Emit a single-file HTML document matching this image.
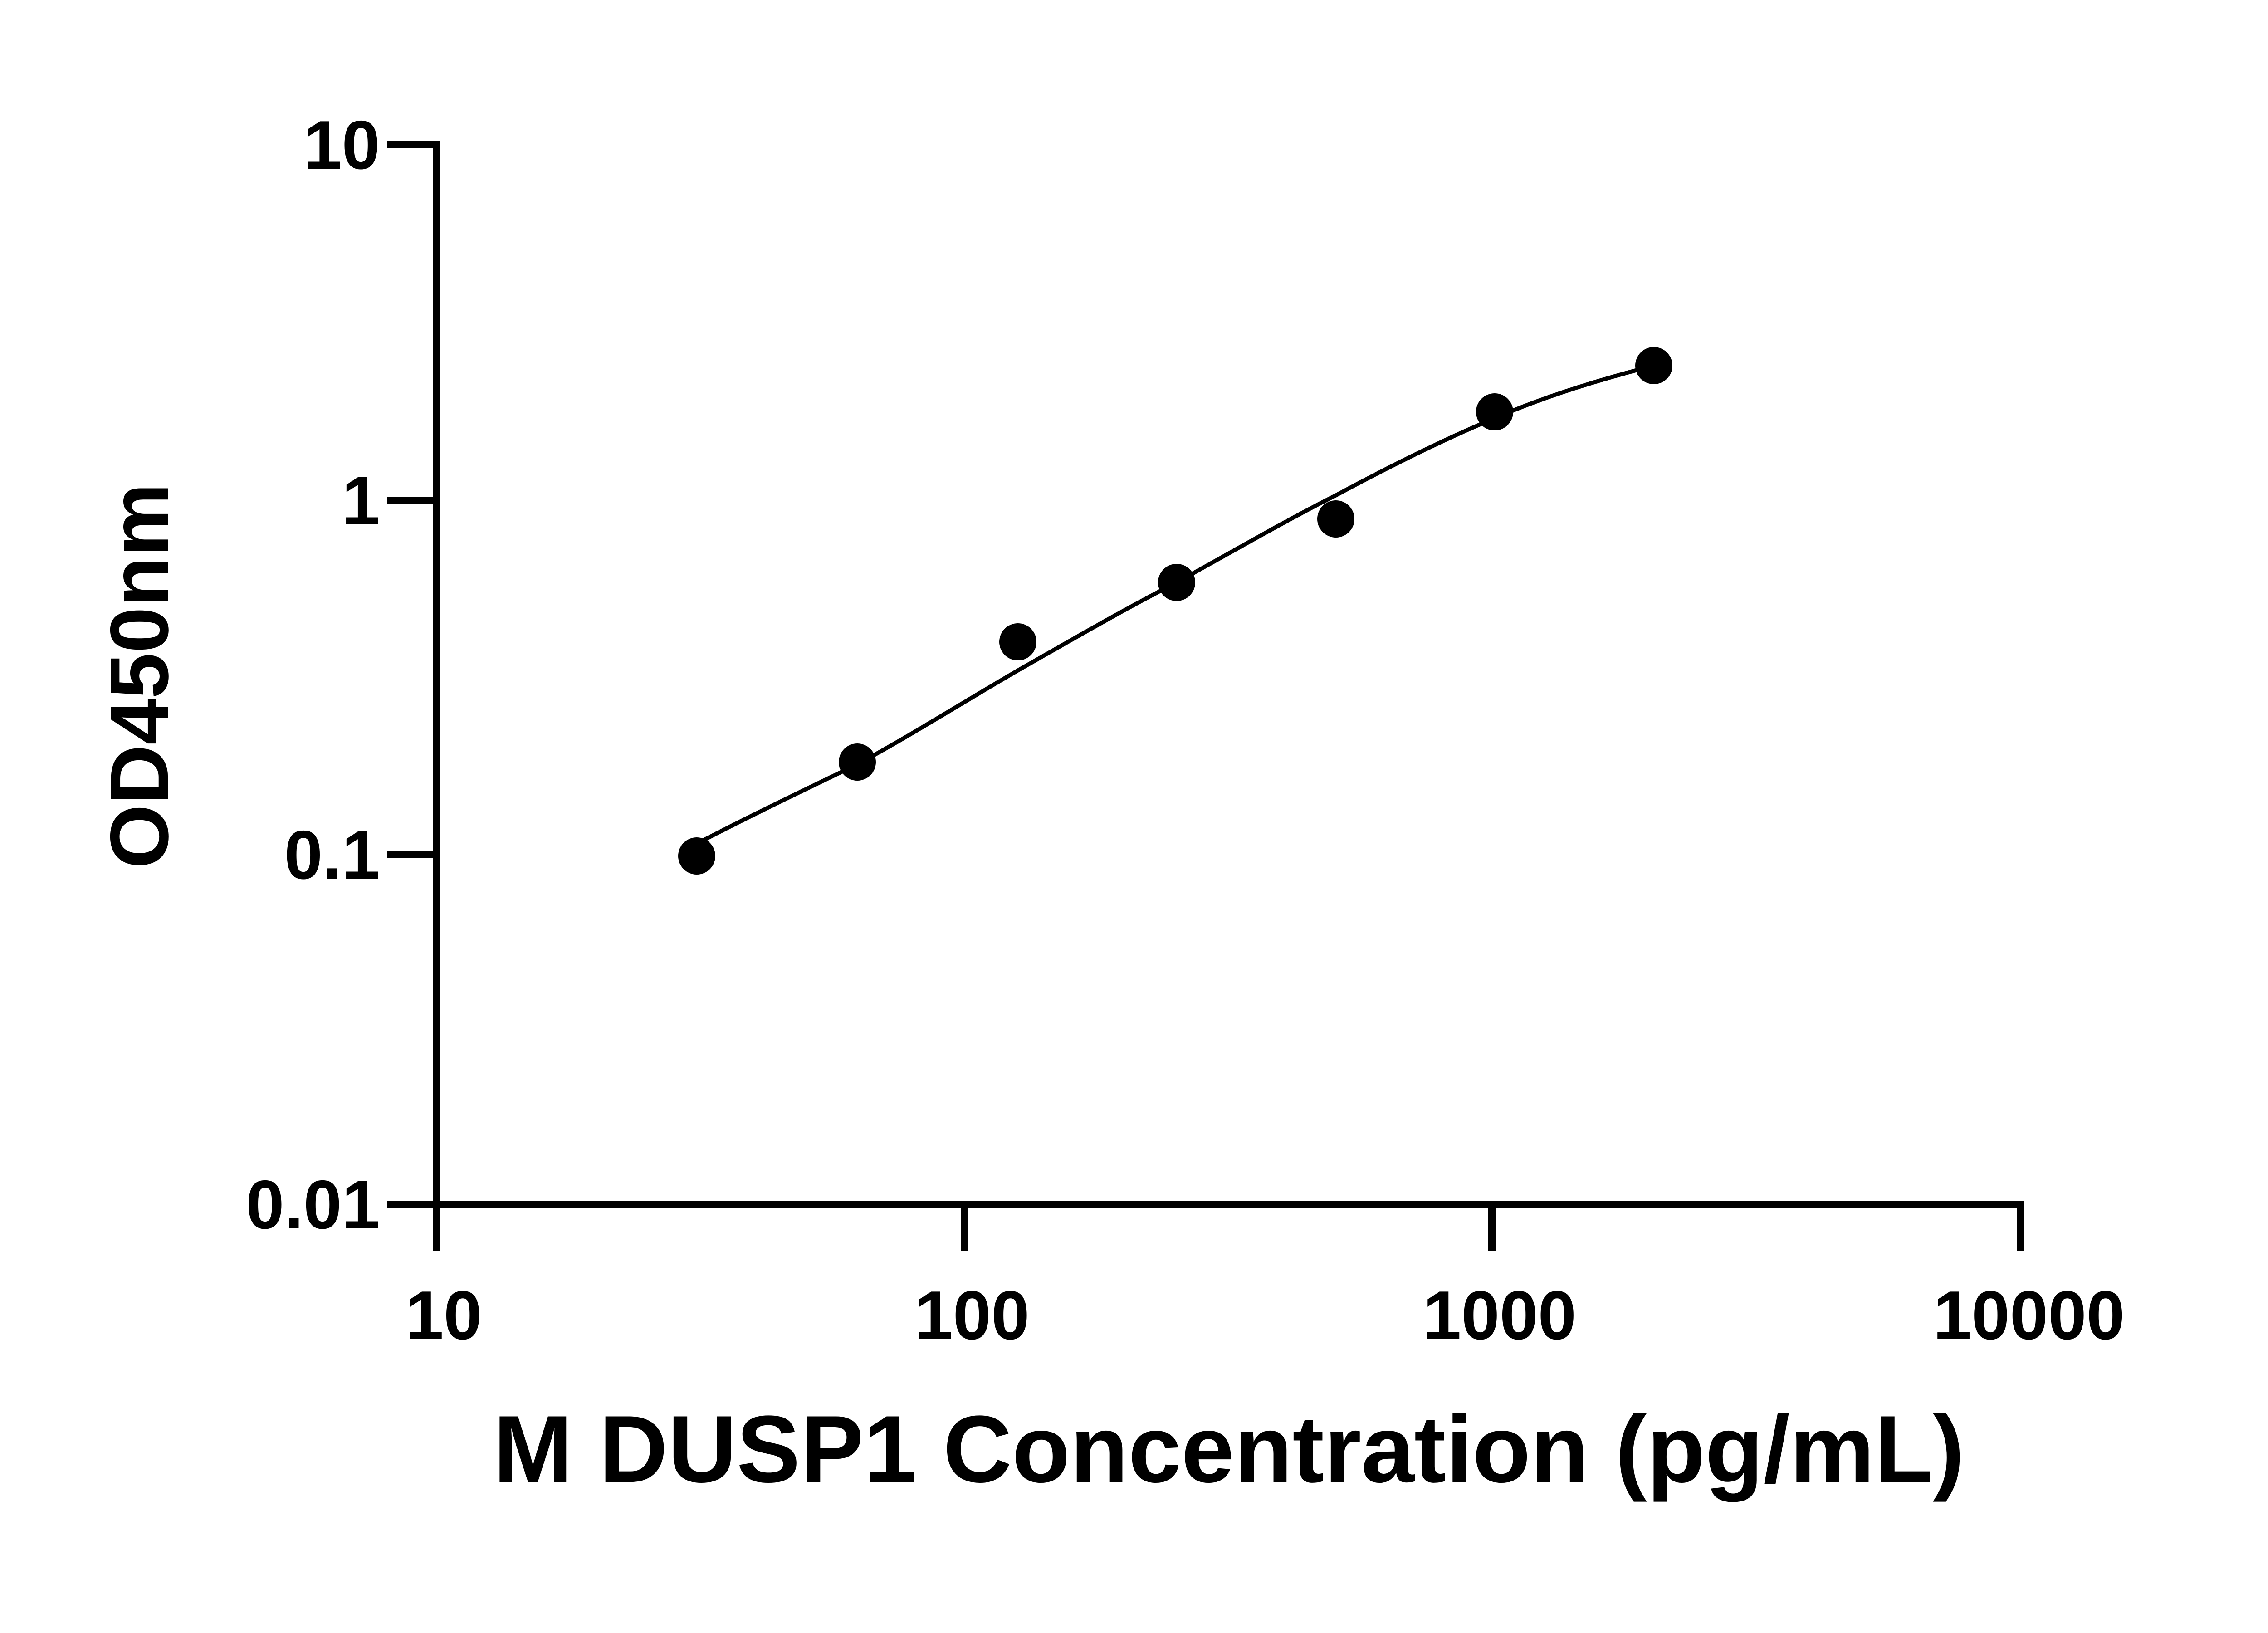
<!DOCTYPE html>
<html><head><meta charset="utf-8"><style>
html,body{margin:0;padding:0;background:#fff;}
svg{display:block;}
text{font-family:"Liberation Sans","DejaVu Sans",sans-serif;font-weight:bold;fill:#000;}
</style></head><body>
<svg width="5142" height="3600" viewBox="0 0 5142 3600" xmlns="http://www.w3.org/2000/svg">
<g stroke="#000" stroke-width="16" fill="none" stroke-linecap="square">
<line x1="962" y1="319" x2="962" y2="2655"/>
<line x1="962" y1="2655" x2="4455" y2="2655"/>
<line x1="862" y1="319" x2="962" y2="319"/>
<line x1="862" y1="1103" x2="962" y2="1103"/>
<line x1="862" y1="1884" x2="962" y2="1884"/>
<line x1="862" y1="2655" x2="962" y2="2655"/>
<line x1="962" y1="2655" x2="962" y2="2750"/>
<line x1="2126" y1="2655" x2="2126" y2="2750"/>
<line x1="3289" y1="2655" x2="3289" y2="2750"/>
<line x1="4455" y1="2655" x2="4455" y2="2750"/>
</g>
<path d="M1536,1860 C1655,1798 1770,1743 1890,1685 C2010,1620 2125,1547 2244,1478 C2360,1412 2475,1345 2594,1284 C2710,1220 2830,1150 2945,1092 C3060,1030 3180,970 3295,922 C3410,872 3530,836 3646,806" stroke="#000" stroke-width="9" fill="none"/>
<g fill="#000">
<circle cx="1536" cy="1887" r="41"/>
<circle cx="1890" cy="1680" r="41"/>
<circle cx="2244" cy="1415" r="41"/>
<circle cx="2594" cy="1284" r="41"/>
<circle cx="2945" cy="1144" r="41"/>
<circle cx="3295" cy="908" r="41"/>
<circle cx="3646" cy="806" r="41"/>
</g>
<g font-size="152" text-anchor="end">
<text x="838" y="372">10</text>
<text x="838" y="1156">1</text>
<text x="838" y="1937">0.1</text>
<text x="838" y="2708">0.01</text>
</g>
<g font-size="152" text-anchor="middle">
<text x="978" y="2952">10</text>
<text x="2143" y="2952">100</text>
<text x="3306" y="2952">1000</text>
<text x="4473" y="2952">10000</text>
</g>
<text x="2709" y="3267" font-size="210" text-anchor="middle">M DUSP1 Concentration (pg/mL)</text>
<text transform="translate(370,1490) rotate(-90)" font-size="182" text-anchor="middle">OD450nm</text>
</svg>
</body></html>
